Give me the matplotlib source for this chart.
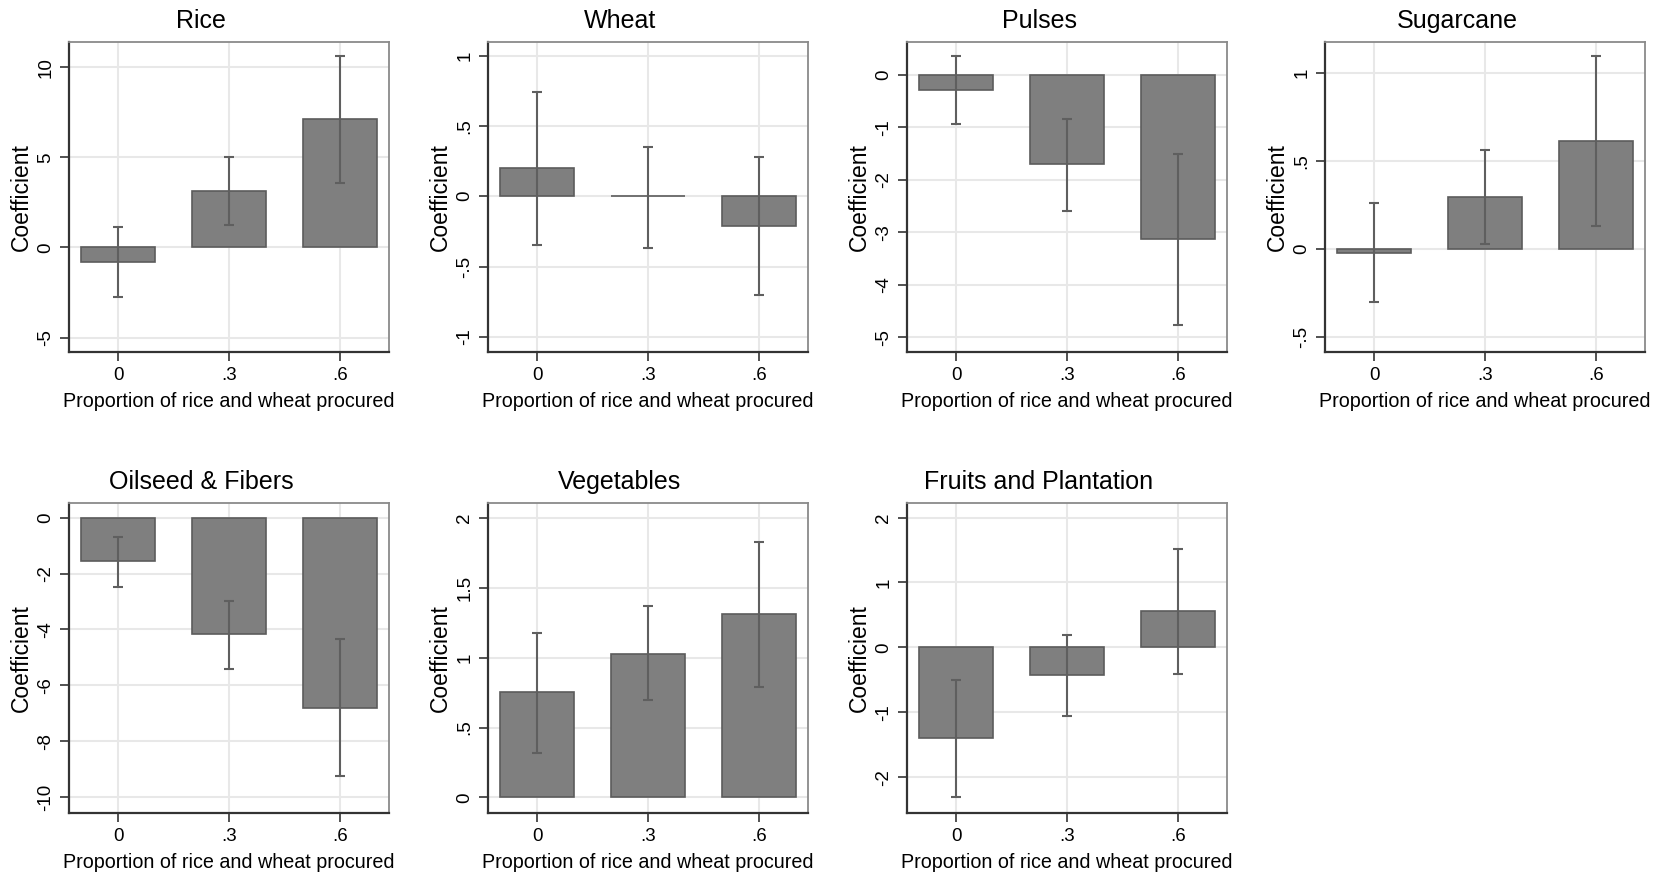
import matplotlib
matplotlib.use("Agg")
import matplotlib.pyplot as plt

plt.rcParams['font.family'] = ['Liberation Sans', 'DejaVu Sans']

# shares of rice and wheat procured
shares = [0, 0.3, 0.6]
share_labels = ["0", ".3", ".6"]

titles = ["Rice", "Wheat", "Pulses", "Sugarcane",
          "Oilseed & Fibers", "Vegetables", "Fruits and Plantation"]

# coefficients
rice = [-0.83, 3.15, 7.13]
wheat = [0.20, 0.0, -0.21]
pulses = [-0.28, -1.70, -3.13]
sugarcane = [-0.02, 0.298, 0.613]
oilseed = [-1.57, -4.18, -6.79]
vegetables = [0.753, 1.03, 1.31]
fruits = [-1.40, -0.42, 0.56]

# 95% CI bounds
rice_lo = [-2.75, 1.25, 3.60]
rice_hi = [1.12, 5.02, 10.64]
wheat_lo = [-0.347, -0.371, -0.704]
wheat_hi = [0.738, 0.350, 0.281]
pulses_lo = [-0.925, -2.59, -4.77]
pulses_hi = [0.37, -0.83, -1.50]
sugarcane_lo = [-0.30, 0.03, 0.129]
sugarcane_hi = [0.264, 0.56, 1.097]
oilseed_lo = [-2.49, -5.42, -9.23]
oilseed_hi = [-0.71, -2.97, -4.34]
vegetables_lo = [0.32, 0.696, 0.789]
vegetables_hi = [1.18, 1.37, 1.83]
fruits_lo = [-2.31, -1.057, -0.41]
fruits_hi = [-0.503, 0.185, 1.51]

coefs = [rice, wheat, pulses, sugarcane, oilseed, vegetables, fruits]
lows = [rice_lo, wheat_lo, pulses_lo, sugarcane_lo, oilseed_lo, vegetables_lo, fruits_lo]
highs = [rice_hi, wheat_hi, pulses_hi, sugarcane_hi, oilseed_hi, vegetables_hi, fruits_hi]

yticks = [[-5, 0, 5, 10], [-1, -0.5, 0, 0.5, 1], [-5, -4, -3, -2, -1, 0],
          [-0.5, 0, 0.5, 1], [-10, -8, -6, -4, -2, 0], [0, 0.5, 1, 1.5, 2],
          [-2, -1, 0, 1, 2]]
ylims = [(-5.8, 11.4), (-1.107, 1.096), (-5.28, 0.63), (-0.583, 1.175),
         (-10.56, 0.52), (-0.111, 2.107), (-2.554, 2.225)]


def stata_fmt(v):
    if v == int(v):
        return str(int(v))
    s = f"{v:g}"
    return s.replace("0.", ".")


W, H = 1655, 877
fig = plt.figure(figsize=(W / 100, H / 100), dpi=100)

lefts = [69, 488, 907, 1325]
tops = [42, 503]
aw, ah = 320, 310

for i in range(7):
    r, c = divmod(i, 4)
    x0, y0 = lefts[c], tops[r]
    ax = fig.add_axes([x0 / W, 1 - (y0 + ah) / H, aw / W, ah / H])
    lo_err = [m - l for m, l in zip(coefs[i], lows[i])]
    hi_err = [h - m for m, h in zip(coefs[i], highs[i])]
    ax.bar(shares, coefs[i], width=0.2, color="#7f7f7f", edgecolor="#5c5c5c",
           linewidth=1.2, zorder=2)
    ax.errorbar(shares, coefs[i], yerr=[lo_err, hi_err], fmt="none",
                ecolor="#5f5f5f", elinewidth=1.5, capsize=3.3, capthick=1.5, zorder=3)
    ax.set_xlim(-0.133, 0.733)
    ax.set_ylim(*ylims[i])
    ax.set_xticks(shares)
    ax.set_xticklabels(share_labels)
    ax.set_yticks(yticks[i])
    ax.set_yticklabels([stata_fmt(v) for v in yticks[i]], rotation=90, va="center")
    ax.grid(True, color="#e8e8e8", linewidth=1.5, zorder=0)
    ax.set_axisbelow(True)
    for side in ["left", "bottom"]:
        ax.spines[side].set_color("#333333")
        ax.spines[side].set_linewidth(1.6)
    for side in ["top", "right"]:
        ax.spines[side].set_color("#8a8a8a")
        ax.spines[side].set_linewidth(1.3)
    ax.tick_params(axis="both", length=6.5, width=1.2, color="#333333",
                   labelsize=13.5, pad=4)
    ax.set_xlabel("Proportion of rice and wheat procured", fontsize=14.2, labelpad=6)
    ax.set_ylabel("Coefficient", fontsize=16.5, labelpad=3)
    ty = 21 if r == 0 else 482
    fig.text((x0 + aw / 2 - 28) / W, 1 - ty / H, titles[i], fontsize=18,
             ha="center", va="center")

fig.savefig("out.png", dpi=100, facecolor="white")
